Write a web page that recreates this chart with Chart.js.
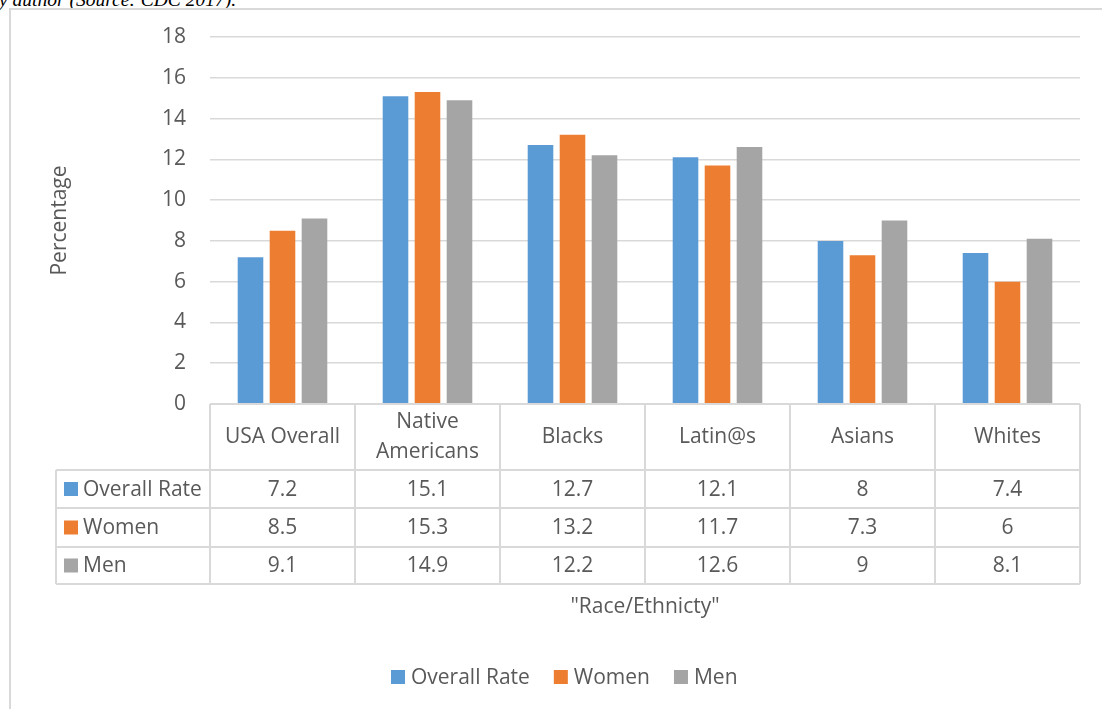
<!DOCTYPE html>
<html>
<head>
<meta charset="utf-8">
<script src="https://cdn.jsdelivr.net/npm/chart.js@4.4.1/dist/chart.umd.min.js"></script>
<style>
    html, body { margin: 0; padding: 0; background: #fff; overflow: hidden; }
    #wrap { position: relative; width: 1102px; height: 709px; }
    #caption {
        position: absolute; left: -1px; top: -11px;
        font: italic 19.5px "Liberation Serif", serif; color: #000; white-space: nowrap;
    }
    #frame {
        position: absolute; left: 9px; top: 8px; right: -4px; bottom: -4px;
        border-left: 2px solid #d9d9d9; border-top: 2px solid #d9d9d9;
    }
    canvas { position: absolute; left: 0; top: 0; }
</style>
</head>
<body>
<div id="wrap">
    <div id="caption">y author (Source: CDC 2017).</div>
    <div id="frame"></div>
    <canvas id="chart" width="1102" height="709"></canvas>
</div>
<script>
    // Categories (multi-line header cells) and the three series
    const CATEGORIES = [
        ['USA Overall'],
        ['Native', 'Americans'],
        ['Blacks'],
        ['Latin@s'],
        ['Asians'],
        ['Whites'],
    ];
    const SERIES_NAMES = ['Overall Rate', 'Women', 'Men'];
    const OVERALL_RATE = [7.2, 15.1, 12.7, 12.1, 8, 7.4];
    const WOMEN = [8.5, 15.3, 13.2, 11.7, 7.3, 6];
    const MEN = [9.1, 14.9, 12.2, 12.6, 9, 8.1];
    const Y_TICKS = [0, 2, 4, 6, 8, 10, 12, 14, 16, 18];

    const COLORS = ['#5B9BD5', '#ED7D31', '#A5A5A5'];
    const TEXT = '#595959';
    const LINE = '#d9d9d9';
    const FONT = '"Open Sans", "Noto Sans", sans-serif';
    const FS = 21;

    // table rows under the plot: header, then one row per series
    const HEADER_BOTTOM = 470;
    const ROW_EDGES = [470, 508, 547, 584];
    const TABLE_LEFT = 56;

    const dataTable = {
        id: 'dataTable',
        afterDraw: function (chart) {
            const ctx = chart.ctx;
            const area = chart.chartArea;
            const x = chart.scales.x;
            const n = chart.data.labels.length;
            const colW = (area.right - area.left) / n;

            ctx.save();
            ctx.strokeStyle = LINE;
            ctx.lineWidth = 2;
            ctx.beginPath();
            // header row box
            ctx.moveTo(area.left, area.bottom);
            ctx.lineTo(area.right, area.bottom);
            ROW_EDGES.forEach(function (y) {
                ctx.moveTo(TABLE_LEFT, y);
                ctx.lineTo(area.right, y);
            });
            ctx.moveTo(TABLE_LEFT, ROW_EDGES[0]);
            ctx.lineTo(TABLE_LEFT, ROW_EDGES[ROW_EDGES.length - 1]);
            for (let i = 0; i <= n; i += 1) {
                const lx = area.left + colW * i;
                ctx.moveTo(lx, area.bottom);
                ctx.lineTo(lx, ROW_EDGES[ROW_EDGES.length - 1]);
            }
            ctx.stroke();

            ctx.font = FS + 'px ' + FONT;
            ctx.fillStyle = TEXT;
            ctx.textAlign = 'center';
            ctx.textBaseline = 'middle';

            // category headers
            const headMid = (area.bottom + HEADER_BOTTOM) / 2;
            chart.data.labels.forEach(function (lines, i) {
                const cx = x.getPixelForValue(i);
                const lh = 30;
                const y0 = headMid - (lines.length - 1) * lh / 2;
                lines.forEach(function (line, j) {
                    ctx.fillText(line, cx, y0 + j * lh);
                });
            });

            // value rows with their legend keys
            chart.data.datasets.forEach(function (ds, r) {
                const cy = (ROW_EDGES[r] + ROW_EDGES[r + 1]) / 2;
                ctx.fillStyle = ds.backgroundColor;
                ctx.fillRect(64, cy - 7, 14, 14);
                ctx.fillStyle = TEXT;
                ctx.textAlign = 'left';
                ctx.fillText(ds.label, 83, cy + 1);
                ctx.textAlign = 'center';
                ds.data.forEach(function (v, i) {
                    ctx.fillText(String(v), x.getPixelForValue(i), cy + 1);
                });
            });

            // axis title under the table
            ctx.fillText('"Race/Ethnicty"', (area.left + area.right) / 2, 607);

            // legend at the bottom
            const items = chart.data.datasets.map(function (ds) {
                return { label: ds.label, color: ds.backgroundColor, w: 14 + 6 + ctx.measureText(ds.label).width };
            });
            let lx = 391;
            const ly = 677;
            ctx.textAlign = 'left';
            items.forEach(function (it) {
                ctx.fillStyle = it.color;
                ctx.fillRect(lx, ly - 7, 14, 14);
                ctx.fillStyle = TEXT;
                ctx.fillText(it.label, lx + 20, ly + 1);
                lx += it.w + 24;
            });
            ctx.restore();
        },
    };

    const seriesValues = [OVERALL_RATE, WOMEN, MEN];

    new Chart(document.getElementById('chart').getContext('2d'), {
        type: 'bar',
        data: {
            labels: CATEGORIES,
            datasets: SERIES_NAMES.map(function (name, i) {
                return {
                    label: name,
                    data: seriesValues[i],
                    backgroundColor: COLORS[i],
                    categoryPercentage: 0.662,
                    barPercentage: 0.8,
                };
            }),
        },
        options: {
            responsive: false,
            devicePixelRatio: 1,
            animation: false,
            layout: { padding: { top: 37, right: 22, bottom: 305, left: 0 } },
            plugins: {
                legend: { display: false },
                tooltip: { enabled: false },
            },
            scales: {
                x: { display: false },
                y: {
                    min: 0,
                    max: 18,
                    afterBuildTicks: function (scale) {
                        scale.ticks = Y_TICKS.map(function (v) { return { value: v }; });
                    },
                    afterFit: function (scale) {
                        scale.width = 210;
                    },
                    border: { display: false },
                    grid: { color: LINE, lineWidth: 1.5, drawTicks: false },
                    ticks: { color: TEXT, padding: 24, font: { family: FONT, size: FS } },
                    title: {
                        display: true,
                        text: 'Percentage',
                        color: TEXT,
                        font: { family: FONT, size: FS },
                        padding: { top: 47, bottom: 0 },
                    },
                },
            },
        },
        plugins: [dataTable],
    });
</script>
</body>
</html>
